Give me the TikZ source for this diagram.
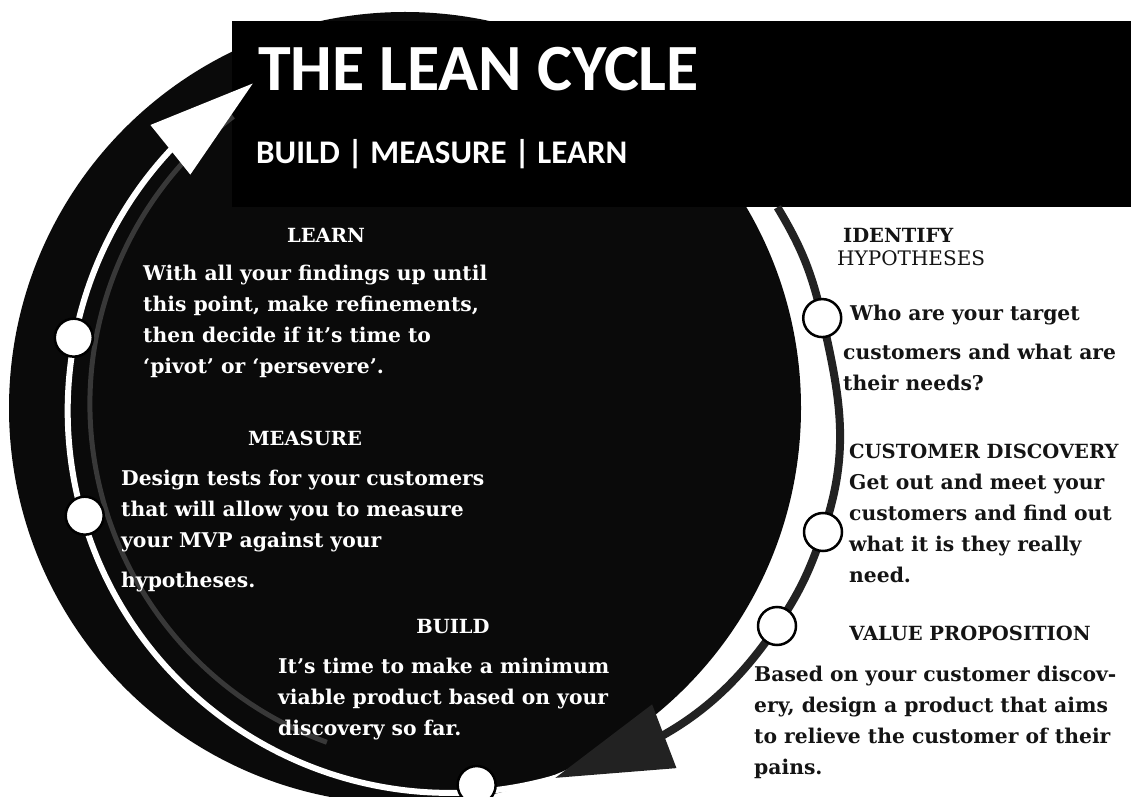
\documentclass[tikz,border=0pt]{standalone}
\usepackage{fontspec}
\setmainfont{DejaVu Serif}
\newfontfamily\leanfont{Carlito}
\usetikzlibrary{arrows.meta}
\usetikzlibrary{bending}

\definecolor{disc}{HTML}{0A0A0A}
\definecolor{greyline}{HTML}{383838}
\definecolor{rim}{HTML}{222222}
\definecolor{ink}{HTML}{141414}

\begin{document}
\begin{tikzpicture}[x=1pt, y=1pt]
    \tikzstyle{heading} = [inner sep=0pt, text={#1}, font=\bfseries\fontsize{19.5}{22}\selectfont]
    \tikzstyle{body} = [inner sep=0pt, text={#1}, align=left, font=\bfseries\fontsize{20.3}{31}\selectfont]
    \tikzstyle{dot} = [circle, fill=white, draw=black, line width=2.5pt, minimum size=38pt, inner sep=0pt]
    \useasboundingbox (0, 0) rectangle (1131, 796);
    \clip (0, 0) rectangle (1131, 796);
    \fill[white] (0, 0) rectangle (1131, 796);
    % disc and title box
    \fill[disc] (405, 388) circle[radius=396];
    \fill[black] (232, 589) rectangle (1131, 775);
    \node[anchor=base west, inner sep=0pt, text=white, font=\leanfont\bfseries\fontsize{66}{66}\selectfont] (title) at (258, 705) {THE LEAN CYCLE};
    \node[anchor=base west, inner sep=0pt, text=white, font=\leanfont\bfseries\fontsize{33}{33}\selectfont] (subtitle) at (256, 632) {BUILD | MEASURE | LEARN};
    % the cycle
    \node[circle, minimum size=764pt, inner sep=0pt, outer sep=0pt] (ring) at (450, 392) {};
    \coordinate (discoverypin) at (823, 264);
    \coordinate (valuepin) at (777, 170);
    \coordinate (rimtip) at (555, 18);
    \draw[greyline, line width=5pt] ([shift={(ring.center)}]250:360) arc[start angle=250, end angle=127, radius=360];
    \draw[white, line width=6pt, -{Triangle[length=106pt, width=62pt]}] (rimtip) arc[start angle=286, end angle=121, radius=382];
    \draw[rim, line width=8pt, -{Triangle[length=117pt, width=66pt]}] (ring.31) to[out=-59, in=103] (ring.13) to[out=-77, in=71] (discoverypin) to[out=-109, in=56] (valuepin) to[out=-124, in=16] (rimtip);
    \node[dot] (learndot) at (ring.170) {};
    \node[dot] (measuredot) at (ring.197) {};
    \node[dot] (builddot) at (ring.274) {};
    \node[dot] (identifydot) at (ring.13) {};
    \node[dot] (discoverydot) at (discoverypin) {};
    \node[dot] (valuedot) at (valuepin) {};
    % inside the disc (multi-line texts sit on their last baseline)
    \node[heading=white, anchor=base] (learnhead) at (326, 553) {LEARN};
    \node[body=white, anchor=base west] (learntext) at (143, 423) {With all your findings up until\\this point, make refinements,\\then decide if it’s time to\\‘pivot’ or ‘persevere’.};
    \node[heading=white, anchor=base] (measurehead) at (305, 351) {MEASURE};
    \node[body=white, anchor=base west] (measuretext) at (121, 209) {Design tests for your customers\\that will allow you to measure\\your MVP against your\\[9pt]hypotheses.};
    \node[heading=white, anchor=base] (buildhead) at (453, 163) {BUILD};
    \node[body=white, anchor=base west] (buildtext) at (278, 61) {It’s time to make a minimum\\viable product based on your\\discovery so far.};
    % right of the cycle
    \node[heading=ink, anchor=base west] (identifyhead) at (843, 553) {IDENTIFY};
    \node[heading=ink, anchor=base west, font=\fontsize{20}{22}\selectfont] (hypohead) at (837, 530) {HYPOTHESES};
    \node[body=ink, anchor=base west] (identifytext) at (843, 406) {\hspace*{7pt}Who are your target\\[8pt]customers and what are\\their needs?};
    \node[heading=ink, anchor=base west] (discoveryhead) at (849, 338) {CUSTOMER DISCOVERY};
    \node[body=ink, anchor=base west] (discoverytext) at (849, 214) {Get out and meet your\\customers and find out\\what it is they really\\need.};
    \node[heading=ink, anchor=base] (valuehead) at (970, 156) {VALUE PROPOSITION};
    \node[body=ink, anchor=base west] (valuetext) at (754, 22) {Based on your customer discov-\\ery, design a product that aims\\to relieve the customer of their\\pains.};
\end{tikzpicture}
\end{document}
